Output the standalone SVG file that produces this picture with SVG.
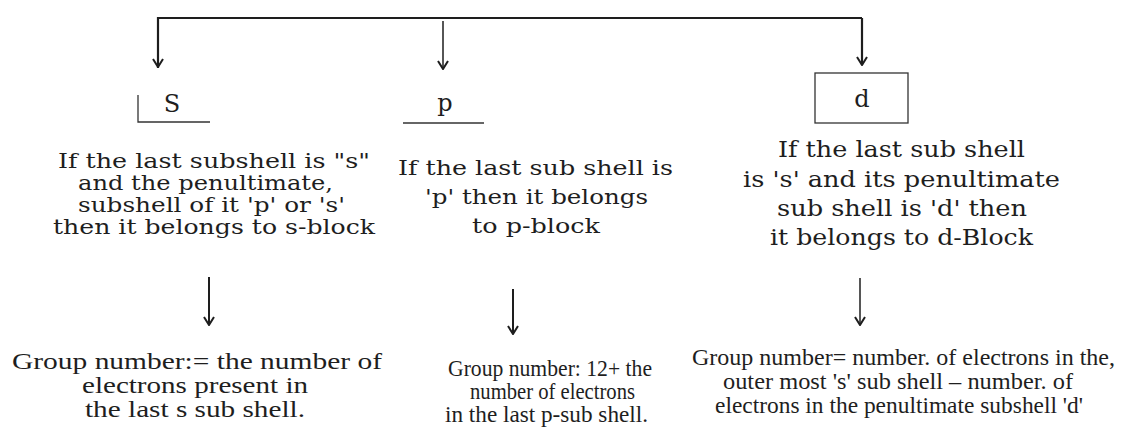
<svg xmlns="http://www.w3.org/2000/svg" width="1129" height="441" viewBox="0 0 1129 441">
<defs>
<style>
.top{font-family:"DejaVu Serif","Liberation Serif",serif;font-size:21px;fill:#1e1e1e;text-anchor:middle}
.top3{font-family:"DejaVu Serif","Liberation Serif",serif;font-size:22px;fill:#1e1e1e;text-anchor:middle}
.lbl{font-family:"DejaVu Serif","Liberation Serif",serif;font-size:24px;fill:#1e1e1e;text-anchor:middle}
.bot{font-family:"Liberation Serif","DejaVu Serif",serif;font-size:23px;fill:#1e1e1e;text-anchor:middle}
.bot1{font-family:"Liberation Serif","DejaVu Serif",serif;font-size:24px;fill:#1e1e1e;text-anchor:middle}
.ln{stroke:#1e1e1e;fill:none;stroke-width:1.5}
.frame{stroke:#333;fill:none;stroke-width:1.3}
</style>
<marker id="ahd" viewBox="0 0 12 10" refX="6" refY="9" markerWidth="12" markerHeight="10" markerUnits="userSpaceOnUse" orient="0">
<path d="M1,1 L6,9 L11,1" fill="none" stroke="#1e1e1e" stroke-width="2"/>
</marker>
</defs>
<rect width="1129" height="441" fill="#ffffff"/>
<g id="connectors">
<path class="ln" d="M158,68 V18 H862" style="stroke-width:2.2"/>
<line class="ln" x1="158" y1="18" x2="158" y2="67" marker-end="url(#ahd)"/>
<line class="ln" x1="862" y1="18" x2="862" y2="65" style="stroke-width:2.2" marker-end="url(#ahd)"/>
<line class="ln" x1="443" y1="21" x2="443" y2="69" marker-end="url(#ahd)"/>
<line class="ln" x1="209" y1="277" x2="209" y2="325" style="stroke-width:2" marker-end="url(#ahd)"/>
<line class="ln" x1="513" y1="289" x2="513" y2="334" style="stroke-width:2" marker-end="url(#ahd)"/>
<line class="ln" x1="860" y1="278" x2="860" y2="325" marker-end="url(#ahd)"/>
</g>
<g id="node-s">
<path class="frame" d="M138,95 V122 H210"/>
<text class="lbl" x="172" y="112">S</text>
</g>
<g id="node-p">
<line class="frame" x1="403" y1="123" x2="484" y2="123"/>
<text class="lbl" x="445" y="111">p</text>
</g>
<g id="node-d">
<rect class="frame" x="815" y="73" width="93" height="50"/>
<text class="lbl" x="862" y="107">d</text>
</g>
<g id="rule-s">
<text class="top" x="214" y="168" textLength="312" lengthAdjust="spacingAndGlyphs">If the last subshell is "s"</text>
<text class="top" x="205.5" y="190" textLength="255" lengthAdjust="spacingAndGlyphs">and the penultimate,</text>
<text class="top" x="211.5" y="212" textLength="267" lengthAdjust="spacingAndGlyphs">subshell of it 'p' or 's'</text>
<text class="top" x="214" y="234" textLength="322" lengthAdjust="spacingAndGlyphs">then it belongs to s-block</text>
</g>
<g id="rule-p">
<text class="top" x="535.5" y="175" textLength="275" lengthAdjust="spacingAndGlyphs">If the last sub shell is</text>
<text class="top" x="536.5" y="204" textLength="223" lengthAdjust="spacingAndGlyphs">'p' then it belongs</text>
<text class="top" x="536" y="233" textLength="128" lengthAdjust="spacingAndGlyphs">to p-block</text>
</g>
<g id="rule-d">
<text class="top3" x="901.5" y="157" textLength="247" lengthAdjust="spacingAndGlyphs">If the last sub shell</text>
<text class="top3" x="901.5" y="187" textLength="317" lengthAdjust="spacingAndGlyphs">is 's' and its penultimate</text>
<text class="top3" x="902" y="216" textLength="250" lengthAdjust="spacingAndGlyphs">sub shell is 'd' then</text>
<text class="top3" x="901.5" y="245" textLength="263" lengthAdjust="spacingAndGlyphs">it belongs to d-Block</text>
</g>
<g id="group-s">
<text class="bot1" x="197" y="369" textLength="370" lengthAdjust="spacingAndGlyphs">Group number:= the number of</text>
<text class="bot1" x="195" y="393" textLength="226" lengthAdjust="spacingAndGlyphs">electrons present in</text>
<text class="bot1" x="195" y="417" textLength="220" lengthAdjust="spacingAndGlyphs">the last s sub shell.</text>
</g>
<g id="group-p">
<text class="bot" x="550" y="376" textLength="204" lengthAdjust="spacingAndGlyphs">Group number: 12+ the</text>
<text class="bot" x="552.5" y="399" textLength="165" lengthAdjust="spacingAndGlyphs">number of electrons</text>
<text class="bot" x="546.5" y="422" textLength="203" lengthAdjust="spacingAndGlyphs">in the last p-sub shell.</text>
</g>
<g id="group-d">
<text class="bot" x="903.5" y="365" textLength="423" lengthAdjust="spacingAndGlyphs">Group number= number. of electrons in the,</text>
<text class="bot" x="898" y="389" textLength="350" lengthAdjust="spacingAndGlyphs">outer most 's' sub shell – number. of</text>
<text class="bot" x="899" y="413" textLength="368" lengthAdjust="spacingAndGlyphs">electrons in the penultimate subshell 'd'</text>
</g>
</svg>
